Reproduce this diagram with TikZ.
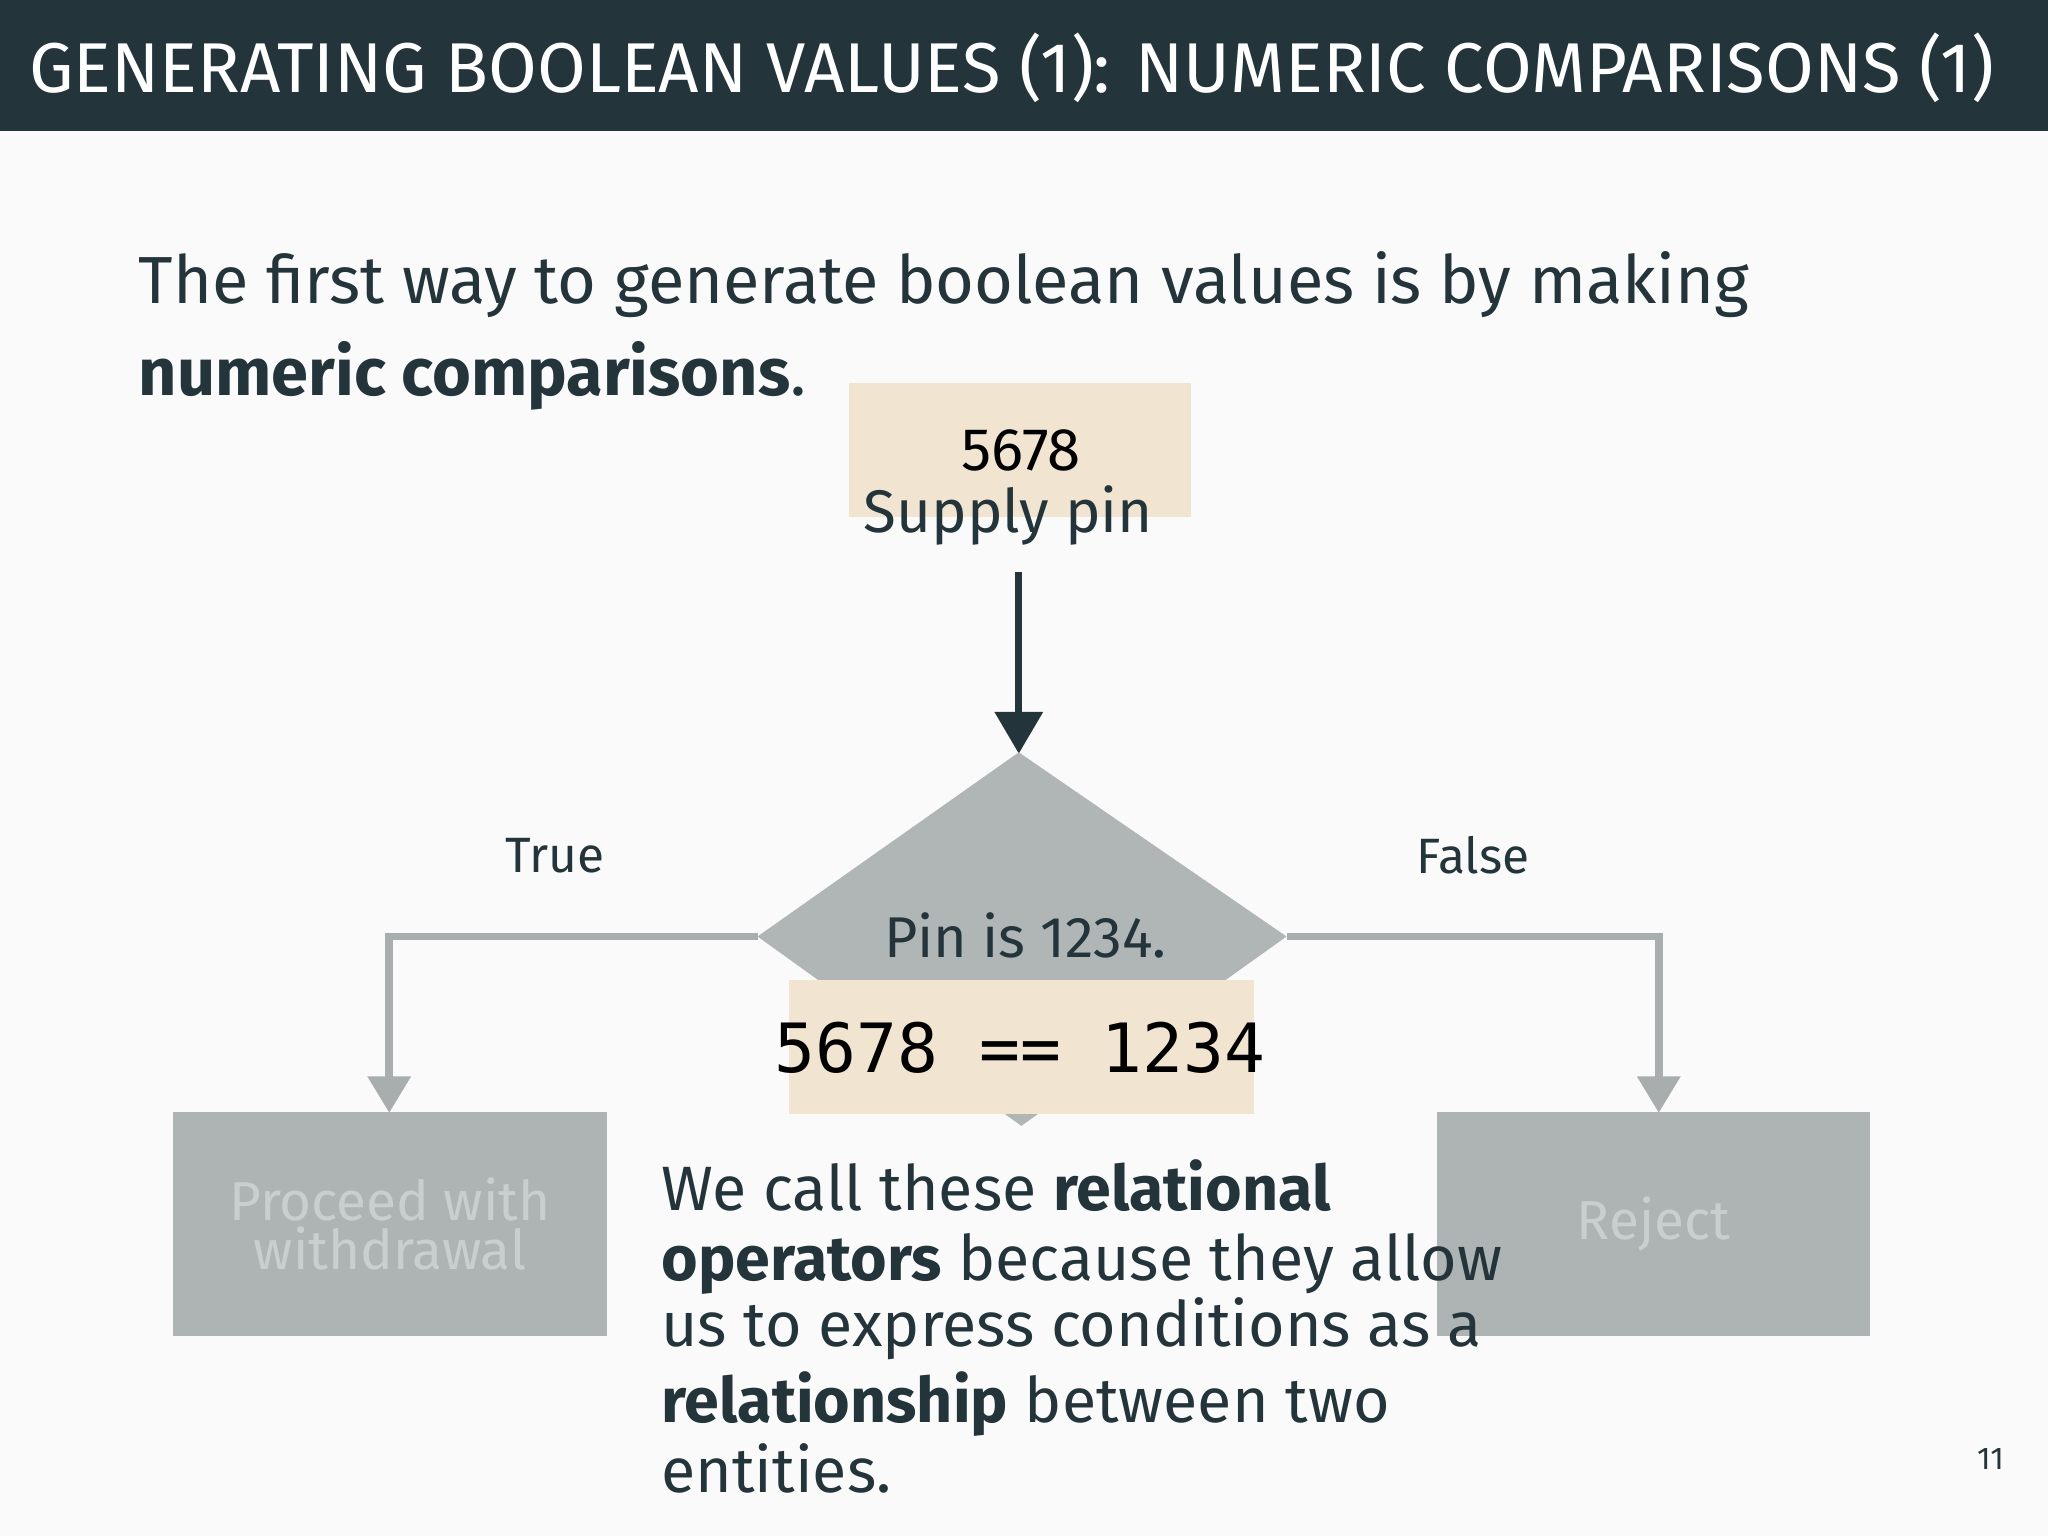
\documentclass[tikz,border=0pt]{standalone}
\usepackage{fontspec}
\setmainfont{Fira Sans}
\newfontfamily\monof{DejaVu Sans Mono}
\usetikzlibrary{arrows.meta,shapes.geometric}
\definecolor{barc}{HTML}{23343B}
\definecolor{bgc}{HTML}{FAFAFA}
\definecolor{tanc}{HTML}{F1E4D0}
\definecolor{dgray}{HTML}{B0B5B6}
\definecolor{lgray}{HTML}{AEB3B3}
\definecolor{linec}{HTML}{A8ADAD}
\definecolor{ghost}{HTML}{C9CECE}
\definecolor{txt}{HTML}{23343B}
\tikzset{
  fsz/.style={font=\fontsize{#1}{#1}\selectfont},
  para/.style={anchor=west,inner sep=0,text=txt,fsz=24pt},
  grayline/.style={draw=linec,line width=3pt,-{Triangle[length=14pt,width=16pt]}},
  endbox/.style={fill=lgray,draw=none,text=ghost,fsz=21pt,align=center,inner sep=0}
}
\begin{document}
\begin{tikzpicture}[x=0.5pt,y=-0.5pt]
\useasboundingbox (0,0) rectangle (1568,1176);
\fill[bgc] (0,0) rectangle (1568,1176);
\fill[barc] (0,0) rectangle (1568,100);
\node[anchor=west,inner sep=0,text=white,fsz=27pt] (title) at (22,52) {GENERATING BOOLEAN VALUES (1): NUMERIC COMPARISONS (1)};
\node[para,fsz=25.5pt] (l1) at (106,218) {The first way to generate boolean values is by making};
\node[para,fsz=25.5pt] (l2) at (106,288) {\textbf{numeric comparisons}.};
% top box
\fill[tanc] (650,293) rectangle (912,396);
\node[inner sep=0,text=black,fsz=23pt] (n1) at (782,345) {5678};
\node[inner sep=0,text=txt,fsz=23pt] (n2) at (772,395) {Supply pin};
\coordinate (a1) at (780,438);
\coordinate (dtop) at (780,577);
\draw[barc,line width=2.6pt,-{Triangle[length=16pt,width=18pt]}] (a1) -- (dtop);
% diamond
\fill[dgray] (780,576) -- (985,717) -- (782,862) -- (580,717) -- cycle;
\coordinate (dl) at (580,717);
\coordinate (dr) at (985,717);
\coordinate (tl) at (298,852);
\coordinate (tr) at (1270,852);
\draw[grayline] (dl) -- (298,717) -- (tl);
\draw[grayline] (dr) -- (1270,717) -- (tr);
\node[inner sep=0,text=txt,fsz=22pt] (pin) at (785,716) {Pin is 1234.};
\fill[tanc] (604,750) rectangle (960,853);
\node[inner sep=0,text=black,font=\monof\fontsize{26pt}{26pt}\selectfont] (cmp) at (781,802) {5678 == 1234};
\node[inner sep=0,text=txt,fsz=19pt] (tru) at (425,655) {True};
\node[inner sep=0,text=txt,fsz=19pt] (fal) at (1128,655) {False};
\node[endbox,minimum width=166pt,minimum height=86pt] (proc) at (298.5,937) {Proceed with\\[-2pt]withdrawal};
\node[endbox,minimum width=166pt,minimum height=86pt] (rej) at (1266,937) {Reject};
\node[para] (p1) at (506,908) {We call these \textbf{relational}};
\node[para] (p2) at (506,968) {\textbf{operators} because they allow};
\node[para] (p3) at (506,1017) {us to express conditions as a};
\node[para] (p4) at (506,1075) {\textbf{relationship} between two};
\node[para] (p5) at (506,1124) {entities.};
\node[inner sep=0,text=txt,fsz=12pt] (pg) at (1524,1117) {11};
\end{tikzpicture}
\end{document}
